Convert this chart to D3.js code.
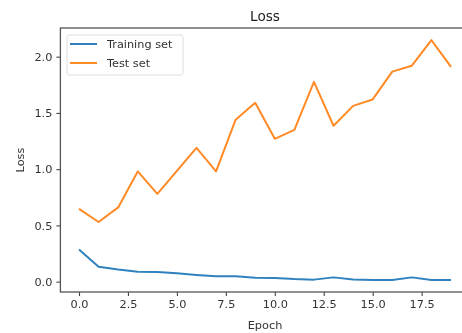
<!DOCTYPE html>
<html>
<head>
<meta charset="utf-8">
<script src="https://cdn.jsdelivr.net/npm/d3@7"></script>
<style>
  body { margin: 0; background: #fff; }
  svg { display: block; font-family: "DejaVu Sans", sans-serif; filter: blur(0.4px); }
</style>
</head>
<body>
<div id="chart"></div>
<script>
// datos
const epochs = d3.range(0, 20);
const trainLoss = [0.286, 0.133, 0.109, 0.089, 0.085, 0.074, 0.059, 0.047, 0.047, 0.035,
                   0.032, 0.023, 0.018, 0.038, 0.020, 0.015, 0.015, 0.038, 0.015, 0.015];
const testLoss = [0.647, 0.53, 0.66, 0.98, 0.78, 0.985, 1.19, 0.98, 1.44, 1.59,
                  1.27, 1.35, 1.776, 1.386, 1.563, 1.62, 1.867, 1.92, 2.148, 1.91];
const xTicks = [0, 2.5, 5, 7.5, 10, 12.5, 15, 17.5];
const yTicks = [0, 0.5, 1, 1.5, 2];
const seriesNames = ["Training set", "Test set"];
const colors = ["#2f82bd", "#ff8a26"];

const width = 462, height = 333;
const mLeft = 60.4, mRight = 469.6, mTop = 28, mBottom = 292;

const svg = d3.select("#chart").append("svg")
  .attr("width", width)
  .attr("height", height);

const x = d3.scaleLinear().domain([-0.95, 19.95]).range([mLeft, mRight]);
const y = d3.scaleLinear().domain([-0.092, 2.255]).range([mBottom, mTop]);

// ejes
const xAxis = d3.axisBottom(x).tickValues(xTicks).tickFormat(d3.format(".1f")).tickSize(4).tickPadding(4);
const yAxis = d3.axisLeft(y).tickValues(yTicks).tickFormat(d3.format(".1f")).tickSize(4).tickPadding(4);

const gx = svg.append("g").attr("transform", `translate(0,${mBottom})`).call(xAxis);
const gy = svg.append("g").attr("transform", `translate(${mLeft},0)`).call(yAxis);
[gx, gy].forEach(g => {
  g.select(".domain").remove();
  g.selectAll("line").attr("stroke", "#444").attr("stroke-width", 1.1);
  g.selectAll("text").attr("fill", "#333").style("font-size", "11.3px").attr("font-family", "DejaVu Sans");
});

// marco
svg.append("rect")
  .attr("x", mLeft).attr("y", mTop)
  .attr("width", mRight - mLeft).attr("height", mBottom - mTop)
  .attr("fill", "none").attr("stroke", "#555").attr("stroke-width", 1.3);

// lineas
const line = d3.line().x((d, i) => x(epochs[i])).y(d => y(d));
[trainLoss, testLoss].forEach((s, k) => {
  svg.append("path")
    .datum(s)
    .attr("fill", "none")
    .attr("stroke", colors[k])
    .attr("stroke-width", 2)
    .attr("stroke-linejoin", "round")
    .attr("d", line);
});

// titulo y etiquetas
svg.append("text").attr("x", (mLeft + mRight) / 2).attr("y", 21)
  .attr("text-anchor", "middle").style("font-size", "13.6px").attr("fill", "#222").text("Loss");
svg.append("text").attr("x", (mLeft + mRight) / 2).attr("y", 329)
  .attr("text-anchor", "middle").style("font-size", "11.3px").attr("fill", "#333").text("Epoch");
svg.append("text").attr("transform", `translate(24,${(mTop + mBottom) / 2}) rotate(-90)`)
  .attr("text-anchor", "middle").style("font-size", "11.3px").attr("fill", "#333").text("Loss");

// leyenda
const legend = svg.append("g");
legend.append("rect")
  .attr("x", 67).attr("y", 35).attr("width", 116).attr("height", 40).attr("rx", 2.5)
  .attr("fill", "#fff").attr("stroke", "#ddd").attr("stroke-width", 1);
seriesNames.forEach((name, i) => {
  const yy = 44 + i * 19;
  legend.append("line").attr("x1", 70).attr("x2", 97).attr("y1", yy).attr("y2", yy)
    .attr("stroke", colors[i]).attr("stroke-width", 2);
  legend.append("text").attr("x", 107).attr("y", yy + 4)
    .style("font-size", "11.3px").attr("fill", "#333").text(name);
});
</script>
</body>
</html>
